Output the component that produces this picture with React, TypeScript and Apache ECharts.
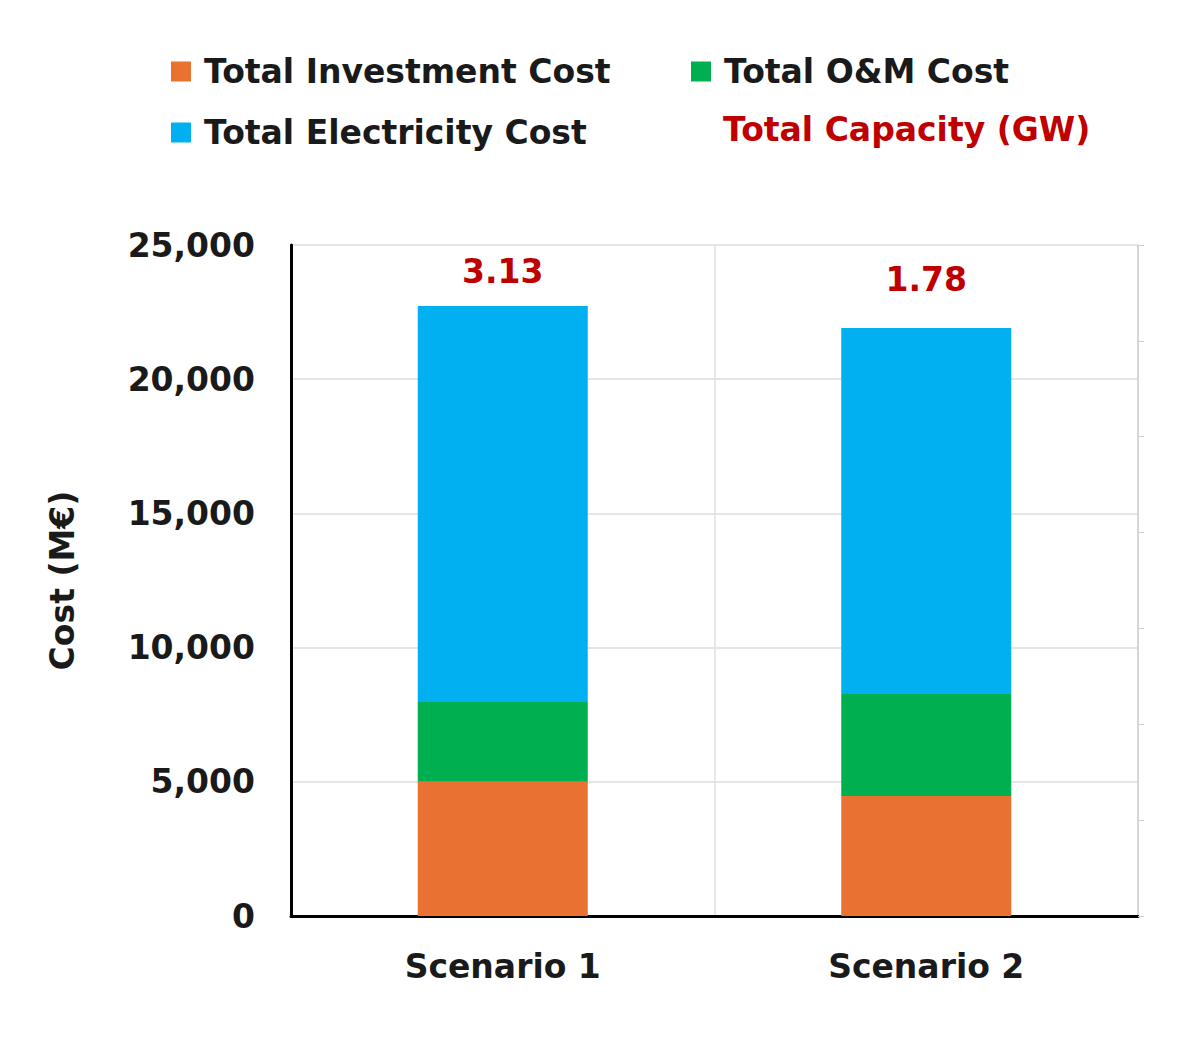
import * as echarts from "echarts"
import { useEffect, useRef } from "react"

const categories = ["Scenario 1", "Scenario 2"]
const investment = [5000, 4470]
const om = [2970, 3800]
const electricity = [14760, 13640]
const capacity = ["3.13", "1.78"]
const yTicks = [0, 5000, 10000, 15000, 20000, 25000]

const font = "DejaVu Sans, Arial, sans-serif"
const labelGap = [18, 32]

export default function App() {
  const ref = useRef<HTMLDivElement>(null)

  useEffect(() => {
    document.body.style.margin = "0"
    if (!ref.current) return
    const chart = echarts.init(ref.current, null, { renderer: "svg" })
    const legendText = {
      fontSize: 33,
      fontWeight: "bold" as const,
      color: "#1a1a1a",
      fontFamily: font,
      padding: [0, 0, 0, 8],
    }
    const legendBase = {
      itemWidth: 20,
      itemHeight: 20,
      icon: "rect",
      itemGap: 20,
      textStyle: legendText,
    }
    chart.setOption({
      animation: false,
      textStyle: { fontFamily: font },
      legend: [
        { ...legendBase, data: ["Total Investment Cost"], left: 166, top: 50 },
        { ...legendBase, data: ["Total O&M Cost"], left: 686, top: 50 },
        { ...legendBase, data: ["Total Electricity Cost"], left: 166, top: 111 },
      ],
      graphic: [
        {
          type: "text",
          left: 723,
          top: 113,
          style: { text: "Total Capacity (GW)", fontSize: 33, fontWeight: "bold", fill: "#c00000", fontFamily: font },
        },
      ],
      grid: { left: 291, right: 62, top: 245, bottom: 130 },
      xAxis: {
        type: "category",
        data: categories,
        axisLine: { lineStyle: { color: "#000", width: 3 } },
        axisTick: { show: false },
        axisLabel: { fontSize: 33, fontWeight: "bold", color: "#1a1a1a", margin: 34 },
        splitLine: { show: true, lineStyle: { color: "#e0e0e0", width: 1.5 } },
      },
      yAxis: [
        {
          type: "value",
          min: yTicks[0],
          max: yTicks[yTicks.length - 1],
          interval: 5000,
          name: "Cost (M€)",
          nameLocation: "middle",
          nameGap: 212,
          nameTextStyle: { fontSize: 33, fontWeight: "bold", color: "#1a1a1a" },
          axisLine: { show: true, lineStyle: { color: "#000", width: 3 } },
          axisTick: { show: false },
          axisLabel: {
            fontSize: 33,
            fontWeight: "bold",
            color: "#1a1a1a",
            margin: 36,
            formatter: (v: number) => v.toLocaleString("en-US"),
          },
          splitLine: { lineStyle: { color: "#dcdcdc", width: 1.5 } },
        },
        {
          type: "value",
          min: 0,
          max: 3.5,
          interval: 0.5,
          position: "right",
          axisLine: { show: true, lineStyle: { color: "#d0d0d0", width: 1.5 } },
          axisTick: { show: true, inside: false, length: 6, lineStyle: { color: "#d0d0d0" } },
          axisLabel: { show: false },
          splitLine: { show: false },
        },
      ],
      series: [
        {
          name: "Total Investment Cost",
          type: "bar",
          stack: "cost",
          data: investment,
          barWidth: 170,
          itemStyle: { color: "#e97132" },
        },
        {
          name: "Total O&M Cost",
          type: "bar",
          stack: "cost",
          data: om,
          itemStyle: { color: "#00b050" },
        },
        {
          name: "Total Electricity Cost",
          type: "bar",
          stack: "cost",
          data: electricity.map((v, i) => ({ value: v, label: { distance: labelGap[i] } })),
          itemStyle: { color: "#00b0f0" },
          label: {
            show: true,
            position: "top",
            fontSize: 33,
            fontWeight: "bold",
            color: "#c00000",
            formatter: (p: any) => capacity[p.dataIndex],
          },
        },
      ],
    })
    return () => chart.dispose()
  }, [])

  return <div ref={ref} style={{ width: 1200, height: 1046 }} />
}
